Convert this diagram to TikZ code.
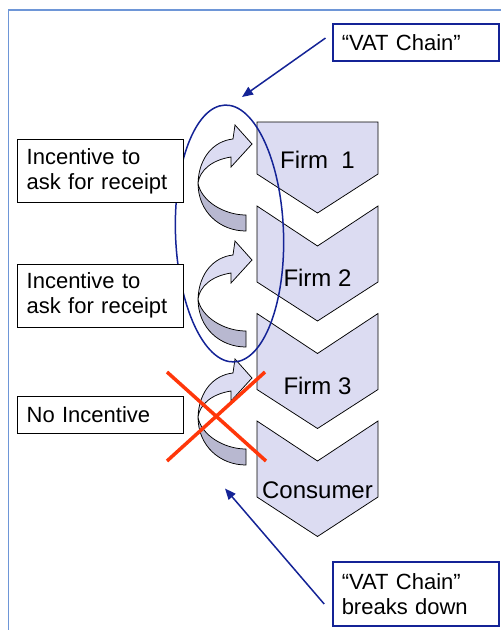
\documentclass[tikz,border=0pt]{standalone}
\usepackage{fontspec}
\setmainfont{Liberation Sans}
\usetikzlibrary{arrows.meta}
\definecolor{chainblue}{RGB}{20, 35, 150}
\definecolor{frameblue}{RGB}{110, 150, 215}
\definecolor{lavender}{RGB}{220, 220, 242}
\definecolor{lavenderdark}{RGB}{184, 184, 208}
\definecolor{crossred}{RGB}{255, 55, 10}
\tikzset{every picture/.style={line width=0.75pt}}
\tikzset{
  notebox/.style={draw=black, fill=white, inner xsep=9pt, inner ysep=0pt, align=left, text width=148pt, font=\fontsize{22}{25}\selectfont},
  chainbox/.style={notebox, draw=chainblue, line width=1.5pt},
  stagetext/.style={font=\fontsize{24}{26}\selectfont, inner sep=0.75pt},
  stagefill/.style={draw=black, fill=lavender},
  frontface/.style={draw=black, fill=lavender},
  backface/.style={draw=black, fill=lavenderdark},
  chainarrow/.style={draw=chainblue, line width=1.5pt, -{Triangle[length=11pt,width=9pt]}},
  crossline/.style={draw=crossred, line width=3.5pt},
}

\begin{document}
\begin{tikzpicture}[x=1pt,y=1pt,yscale=-1]
\useasboundingbox (0,0) rectangle (501,630);

%Straight Lines [frame]
\draw [frameblue, line width=1.5pt] (8.3,640) -- (8.3,10) -- (510,10) ;

%Shape: Pentagon [firm 1]
\draw [stagefill] (257,122) -- (378,122) -- (378,174) -- (317.5,213) -- (257,174) -- cycle ;
%Shape: Chevron [firm 2]
\draw [stagefill] (257,206) -- (317.5,246) -- (378,206) -- (378,282) -- (317.5,321) -- (257,282) -- cycle ;
%Shape: Chevron [firm 3]
\draw [stagefill] (257,313.5) -- (317.5,353.5) -- (378,313.5) -- (378,389.5) -- (317.5,428.5) -- (257,389.5) -- cycle ;
%Shape: Chevron [consumer]
\draw [stagefill] (257,421) -- (317.5,461) -- (378,421) -- (378,497) -- (317.5,536.5) -- (257,497) -- cycle ;

% Text Node
\node [stagetext] (firm1) at (317.5,159.5) {Firm\ \ 1};
% Text Node
\node [stagetext] (firm2) at (317.5,278) {Firm 2};
% Text Node
\node [stagetext] (firm3) at (317.5,386) {Firm 3};
% Text Node
\node [stagetext] (consumer) at (317.5,490) {Consumer};

%Shape: Curved Right Arrow [firm 1]
\draw [backface] (198,183) .. controls (198,212) and (220,231) .. (246,231) -- (246,215) .. controls (224,215) and (201,201) .. (198,183) -- cycle ;
\draw [frontface] (198,183) .. controls (199,157) and (214,141) .. (233,139) -- (235,125) -- (252,144) -- (231,167) -- (231,157) .. controls (212,160) and (200,170) .. (198,183) -- cycle ;
%Shape: Curved Right Arrow [firm 2]
\begin{scope}[shift={(0,116)}]
\draw [backface] (198,183) .. controls (198,212) and (220,231) .. (246,231) -- (246,215) .. controls (224,215) and (201,201) .. (198,183) -- cycle ;
\draw [frontface] (198,183) .. controls (199,157) and (214,141) .. (233,139) -- (235,125) -- (252,144) -- (231,167) -- (231,157) .. controls (212,160) and (200,170) .. (198,183) -- cycle ;
\end{scope}
%Shape: Curved Right Arrow [firm 3]
\begin{scope}[shift={(0,234)}]
\draw [backface] (198,183) .. controls (198,212) and (220,231) .. (246,231) -- (246,215) .. controls (224,215) and (201,201) .. (198,183) -- cycle ;
\draw [frontface] (198,183) .. controls (199,157) and (214,141) .. (233,139) -- (235,125) -- (252,144) -- (231,167) -- (231,157) .. controls (212,160) and (200,170) .. (198,183) -- cycle ;
\end{scope}

%Shape: Ellipse [chain ring]
\draw [chainblue, line width=1.5pt, rotate around={-2:(229.5,233.5)}] (229.5,233.5) ellipse [x radius=54, y radius=128.5] ;

%Straight Lines [cross]
\draw [crossline] (167,372) -- (266,461) ;
\draw [crossline] (167,461) -- (265,372) ;

% Text Node
\node [notebox, anchor=north west, minimum height=63pt] (ask1) at (17.3,139) {Incentive to\\ask for receipt};
% Text Node
\node [notebox, anchor=north west, minimum height=63pt] (ask2) at (17.3,263.5) {Incentive to\\ask for receipt};
% Text Node
\node [notebox, anchor=north west, minimum height=37pt] (noinc) at (17.3,395.5) {No Incentive};
% Text Node
\node [chainbox, anchor=north west, minimum height=37pt] (chain) at (332,23) {“VAT Chain”};
% Text Node
\node [chainbox, anchor=north west, minimum height=64pt] (breaks) at (332,561) {“VAT Chain”\\breaks down};

%Straight Lines [pointers]
\coordinate (ringtop) at (242,97);
\coordinate (ringfoot) at (225,488.5);
\draw [chainarrow, shorten <=8pt] (chain.174) -- (ringtop) ;
\draw [chainarrow, shorten <=12pt] (breaks.193) -- (ringfoot) ;
\end{tikzpicture}
\end{document}
